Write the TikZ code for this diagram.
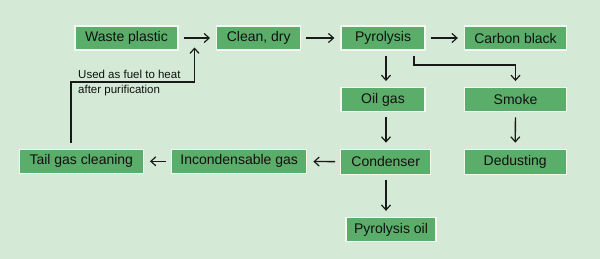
\documentclass[tikz,border=0pt]{standalone}
\usepackage{fontspec}
\setmainfont{Liberation Sans}
\usetikzlibrary{arrows.meta}
\definecolor{bgc}{HTML}{D4EAD6}
\definecolor{boxc}{HTML}{5BAD6A}
\definecolor{edgec}{HTML}{F2F9F2}
\definecolor{txt}{HTML}{111111}
\begin{document}
\begin{tikzpicture}[x=1pt,y=-1pt,
  box/.style={draw=edgec, line width=1.3pt, fill=boxc, text=txt, minimum height=24pt, inner sep=0pt,
    font=\fontsize{14pt}{16pt}\selectfont},
  flow/.style={draw=black!90, line width=1.3pt, -{Straight Barb[length=5pt,width=9pt,line width=1.2pt]},
    shorten <=5pt, shorten >=6pt}]
\fill[bgc] (0,0) rectangle (600,259);
\useasboundingbox (0,0) rectangle (600,259);
\node[box, minimum width=103pt] (waste) at (126.5,38) {Waste plastic};
\node[box, minimum width=84pt] (clean) at (258.7,38) {Clean, dry};
\node[box, minimum width=84pt] (pyro) at (383,38) {Pyrolysis};
\node[box, minimum width=102pt] (carbon) at (515.5,38) {Carbon black};
\node[box, minimum width=84pt] (oilgas) at (383,99.7) {Oil gas};
\node[box, minimum width=102pt] (smoke) at (515.5,99.7) {Smoke};
\node[box, minimum width=124pt] (tail) at (81.3,161.3) {Tail gas cleaning};
\node[box, minimum width=135pt] (incond) at (239.2,161.3) {Incondensable gas};
\node[box, minimum width=90pt, minimum height=25pt] (cond) at (385.7,161.8) {Condenser};
\node[box, minimum width=102pt, minimum height=25pt] (dedust) at (515.2,161.8) {Dedusting};
\node[box, minimum width=90pt] (pyoil) at (391,229.5) {Pyrolysis oil};
\coordinate (fbA) at (71,82);
\coordinate (fbB) at (194.5,47.5);
\coordinate (bend) at (515.5,65);
\coordinate (colx) at (386,0);
\node[anchor=north west, inner sep=0pt, align=left, text=txt,
  font=\fontsize{11.5pt}{15pt}\selectfont] (lbl) at (78,70) {Used as fuel to heat\\after purification};
\draw[flow] (waste) -- (clean);
\draw[flow] (clean) -- (pyro);
\draw[flow] (pyro) -- (carbon);
\draw[flow] (pyro.south -| colx) -- (oilgas.north -| colx);
\draw[flow] (oilgas.south -| colx) -- (cond.north -| colx);
\draw[flow] (cond.south -| colx) -- (pyoil.north -| colx);
\draw[flow] (smoke) -- (dedust);
\draw[flow] ([xshift=31pt]pyro.south) |- (bend) -- (smoke.north);
\draw[flow] (cond) -- (incond);
\draw[flow] (incond) -- (tail);
\draw[flow, shorten <=6pt, shorten >=0pt] (tail.north -| fbA) -- (fbA) -- (fbA -| fbB) -- (fbB);
\end{tikzpicture}
\end{document}
